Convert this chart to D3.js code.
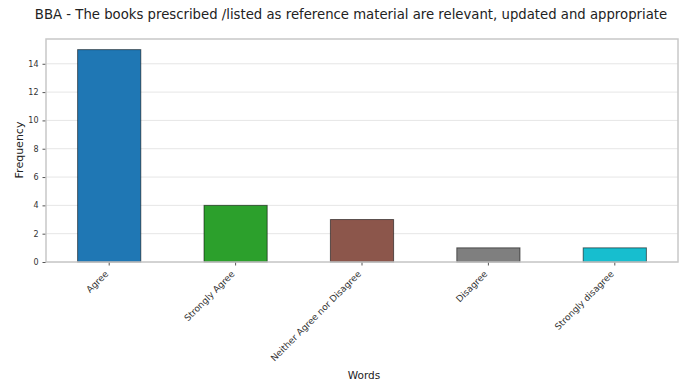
<!DOCTYPE html>
<html><head><meta charset="utf-8">
<script src="https://cdn.jsdelivr.net/npm/d3@7"></script>
<style>body{margin:0;background:#fff}svg{display:block}text{font-family:"DejaVu Sans",sans-serif}</style>
</head><body><svg id="c" width="684" height="383"></svg>
<script>
const categories = ["Agree","Strongly Agree","Neither Agree nor Disagree","Disagree","Strongly disagree"];
const values = [15,4,3,1,1];
const colors = ["#1f77b4","#2ca02c","#8c564b","#7f7f7f","#17becf"];
const yTicks = [0,2,4,6,8,10,12,14];
const title = "BBA - The books prescribed /listed as reference material are relevant, updated and appropriate";

const svg = d3.select("#c");
const m = {l:46, r:678, t:39, b:262};
const x = d3.scaleBand().domain(categories).range([m.l,m.r]).paddingInner(0).paddingOuter(0);
const y = d3.scaleLinear().domain([0,15.75]).range([m.b,m.t]);

// grid
svg.append("g").selectAll("line").data(yTicks).join("line")
  .attr("x1",m.l).attr("x2",m.r).attr("y1",d=>y(d)).attr("y2",d=>y(d))
  .attr("stroke","#e6e6e6").attr("stroke-width",1);

// bars
const bw = x.bandwidth()*0.5;
svg.append("g").selectAll("rect").data(values).join("rect")
  .attr("x",(d,i)=>x(categories[i])+x.bandwidth()/2-bw/2)
  .attr("width",bw)
  .attr("y",d=>y(d)).attr("height",d=>y(0)-y(d))
  .attr("fill",(d,i)=>colors[i])
  .attr("stroke","#000").attr("stroke-opacity",0.55).attr("stroke-width",1);

// axes
const yAxis = svg.append("g").attr("transform",`translate(${m.l},0)`)
  .call(d3.axisLeft(y).tickValues(yTicks).tickSize(3.5).tickPadding(4));
const xAxis = svg.append("g").attr("transform",`translate(0,${m.b})`)
  .call(d3.axisBottom(x).tickSize(3.5).tickPadding(3));
[yAxis,xAxis].forEach(a=>{a.select(".domain").remove();
  a.selectAll(".tick line").attr("stroke","#555");
  a.selectAll("text").attr("fill","#333").style("font-family","DejaVu Sans, sans-serif");});
yAxis.selectAll("text").style("font-size","8px");
xAxis.selectAll("text").style("font-size","9px").attr("text-anchor","end").attr("dx","0").attr("dy","0")
  .attr("transform","translate(-5,8) rotate(-45)");

// frame
svg.append("rect").attr("x",m.l).attr("y",m.t).attr("width",m.r-m.l).attr("height",m.b-m.t)
  .attr("fill","none").attr("stroke","#c8c8c8").attr("stroke-width",1.5);

// labels
svg.append("text").attr("x",351).attr("y",19).attr("text-anchor","middle")
  .style("font-size","13.25px").attr("fill","#222").text(title);
svg.append("text").attr("x",364).attr("y",379).attr("text-anchor","middle")
  .style("font-size","10.5px").attr("fill","#222").text("Words");
svg.append("text").attr("transform",`translate(23,150) rotate(-90)`).attr("text-anchor","middle")
  .style("font-size","11px").attr("fill","#222").text("Frequency");
</script></body></html>
